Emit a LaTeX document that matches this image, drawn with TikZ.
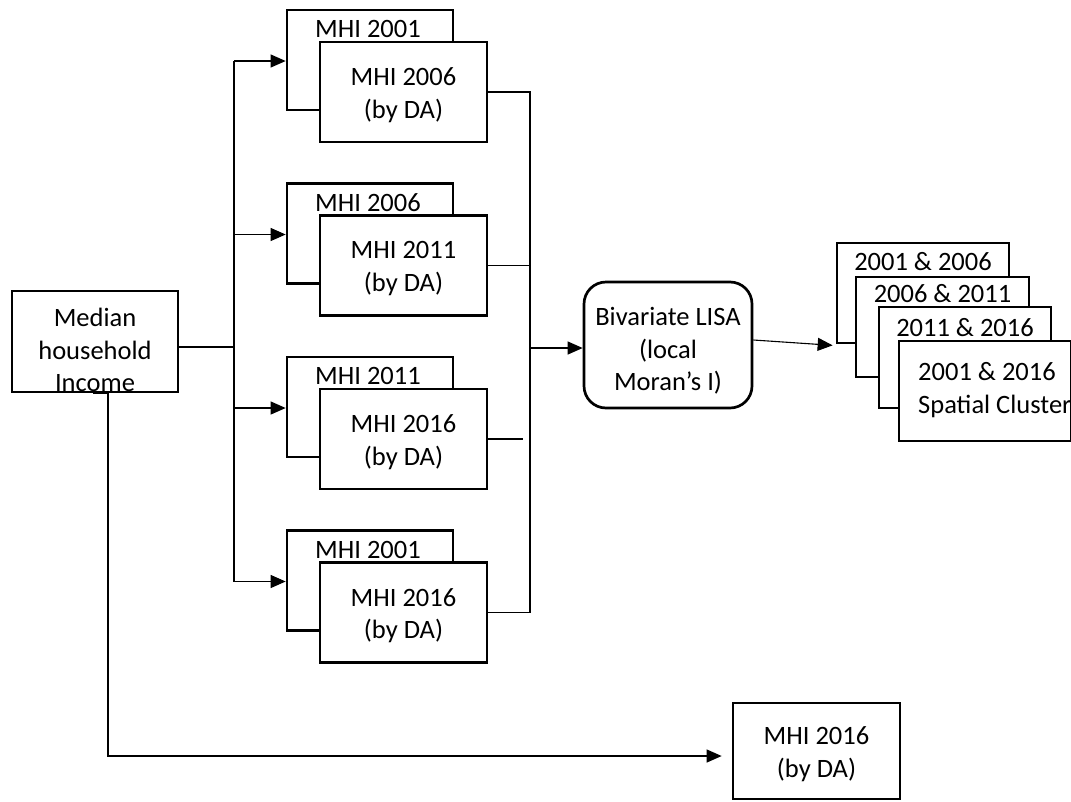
\documentclass[tikz,border=0pt]{standalone}
\usepackage{fontspec}
\setmainfont{Carlito}
\usetikzlibrary{arrows.meta}
\begin{document}
\begin{tikzpicture}[x=1pt,y=-1pt,
  every node/.style={font=\fontsize{26.5}{32.5}\selectfont},
  box/.style={draw=black,line width=2.7pt,fill=white,minimum width=#1,inner sep=0pt},
  box/.default=166pt,
  txt/.style={align=center,inner sep=0pt},
  conn/.style={line width=1.1pt},
  arr/.style={conn,-{Triangle[length=15pt,width=13pt]}}]
\useasboundingbox (0,0) rectangle (1071,801);
\clip (0,0) rectangle (1071,801);

% groups
\foreach \k/\ta/\tb in {1/MHI 2001/MHI 2006,2/MHI 2006/MHI 2011,3/MHI 2011/MHI 2016,4/MHI 2001/MHI 2016}{
  \pgfmathsetmacro{\dy}{173.5*(\k-1)}
  \node[box,minimum height=100pt] (b\k) at (370,60+\dy) {};
  \node[txt] (bt\k) at (368,29+\dy) {\ta};
  \node[box=167pt,minimum height=100pt] (f\k) at (403.5,92+\dy) {};
  \node[txt] (ft\k) at (403.5,95+\dy) {\tb\\(by DA)};
}

% median
\node[box,minimum height=101pt] (med) at (95,341.5) {};
\node[txt] (medt) at (95,350) {Median\\household\\Income};

\coordinate (j) at (234,347);
\coordinate (r) at (530,347);
\draw[conn] (med.east |- j) -- (j);
\draw[conn] ([yshift=-1pt]b1.west -| j) -- ([yshift=-1pt]b4.west -| j);
\foreach \k in {1,2,3,4}{
  \draw[arr] ([yshift=-1pt]b\k.west -| j) -- ([yshift=-1pt]b\k.west);
}
\draw[conn] (f1.east) -- (f1.east -| r) -- (f4.east -| r) -- (f4.east);
\draw[conn] (f2.east) -- (f2.east -| r);
\draw[conn] (f3.east) -- ++(35,0);

% LISA
\node[box=168pt,minimum height=126pt,rounded corners=22pt] (lisa) at (668,345) {};
\node[txt] (lisat) at (668,351) {Bivariate LISA\\(local\\Moran’s I)};
\draw[arr] (r |- 0,348) -- (lisa.west |- 0,348);

% clusters
\node[box=172pt,minimum height=100pt] (ca) at (923,293) {};
\node[txt] (cat) at (923,262) {2001 \& 2006};
\node[box=173pt,minimum height=100pt] (cb) at (942.5,327) {};
\node[txt] (cbt) at (942.5,294) {2006 \& 2011};
\node[box=172pt,minimum height=101pt] (cc) at (965,357.5) {};
\node[txt] (cct) at (965,328) {2011 \& 2016};
\node[box=172pt,minimum height=100pt] (cd) at (985,391) {};
\node[txt,align=left,anchor=west] (cdt) at (918,390) {2001 \& 2016\\Spatial Cluster};
\draw[arr] ([yshift=5pt]lisa.east) -- ([xshift=-3pt,yshift=-1pt]ca.south west);

% bottom
\node[box=167pt,minimum height=96pt] (bot) at (816.5,751) {};
\node[txt] (bott) at (816.5,754) {MHI 2016\\(by DA)};
\coordinate (s) at (93,393);
\draw[arr] (s) -- (108,393) -- (108,756) -- ([xshift=-10pt]bot.west |- 0,756);
\end{tikzpicture}
\end{document}
